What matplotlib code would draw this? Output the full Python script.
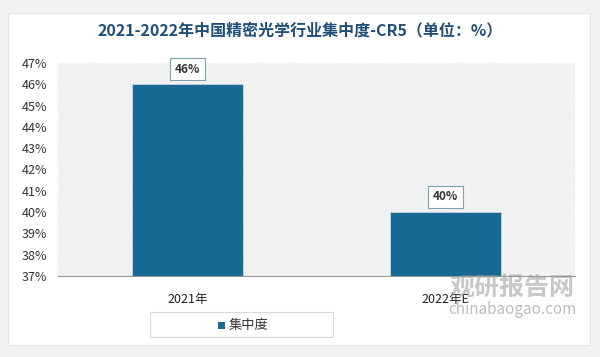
import matplotlib
matplotlib.use("Agg")
import matplotlib.pyplot as plt
from matplotlib.patches import Rectangle

plt.rcParams['font.family'] = ['Noto Sans CJK SC', 'DejaVu Sans']
plt.rcParams['hatch.linewidth'] = 0.6

categories = ['2021年', '2022年E']
values = [46, 40]
yticks = list(range(37, 48))
title = '2021-2022年中国精密光学行业集中度-CR5（单位：%）'
series_name = '集中度'

bar_color = '#176a93'

fig = plt.figure(figsize=(6, 3.57), dpi=100)
fig.patch.set_facecolor('#f2f2f2')
# card
card = Rectangle((8/600, 12/357), 582/600, 332/357,
                 transform=fig.transFigure, facecolor='white', edgecolor='#e6e6e6', lw=0.8, zorder=-10)
fig.patches.append(card)

ax = fig.add_axes([58/600, 1-276/357, 517/600, 213/357])
ax.set_facecolor('white')
bg = Rectangle((0, 0), 1, 1, transform=ax.transAxes, facecolor='#ffffff', edgecolor='#e2e2e2',
               linewidth=0, hatch='\\' * 12, zorder=0)
ax.add_patch(bg)

x = range(len(categories))
bars = ax.bar(x, values, width=0.43, color=bar_color, zorder=3, edgecolor='#c9d6de', linewidth=0.6)
ax.set_xlim(-0.5, 1.5)
ax.set_ylim(37, 47)
ax.set_yticks(yticks)
ax.set_yticklabels([f'{v}%' for v in yticks], fontsize=9, color='#333333')
ax.set_xticks(list(x))
ax.set_xticklabels(categories, fontsize=9, color='#222222')
ax.tick_params(axis='both', length=0, pad=8)
ax.tick_params(axis='x', pad=12)
for s in ['top', 'right', 'left']:
    ax.spines[s].set_visible(False)
ax.spines['bottom'].set_color('#999999')
ax.spines['bottom'].set_linewidth(0.8)

for xi, v in zip(x, values):
    ax.annotate(f'{v}%', (xi, v), xytext=(0, 11), textcoords='offset points',
                ha='center', va='center', fontsize=8.5, fontweight='bold', color='#333333',
                bbox=dict(boxstyle='square,pad=0.4', facecolor='white', edgecolor='#7f9fb3', lw=0.8),
                zorder=5)

fig.text(0.5, 1-30/357, title, ha='center', va='center', fontsize=11.5, fontweight='bold', color='#1f4e79')

# legend
leg_box = Rectangle((150/600, 1-337/357), 183/600, 25/357, transform=fig.transFigure,
                    facecolor='white', edgecolor='#d9d9d9', lw=0.8)
fig.patches.append(leg_box)
fig.patches.append(Rectangle((218/600, 1-329/357), 7/600, 7/357, transform=fig.transFigure,
                             facecolor=bar_color, edgecolor='none'))
fig.text(229/600, 1-325/357, series_name, ha='left', va='center', fontsize=9.5, color='#333333')

# watermark
fig.text(512/600, 1-288/357, '观研报告网', ha='center', va='center', fontsize=18, fontweight='bold',
         color='#9a9a9a', alpha=0.55)
fig.text(512/600, 1-310/357, 'chinabaogao.com', ha='center', va='center', fontsize=11,
         color='#9a9a9a', alpha=0.65)

fig.savefig('out.png', dpi=100, facecolor=fig.get_facecolor())
